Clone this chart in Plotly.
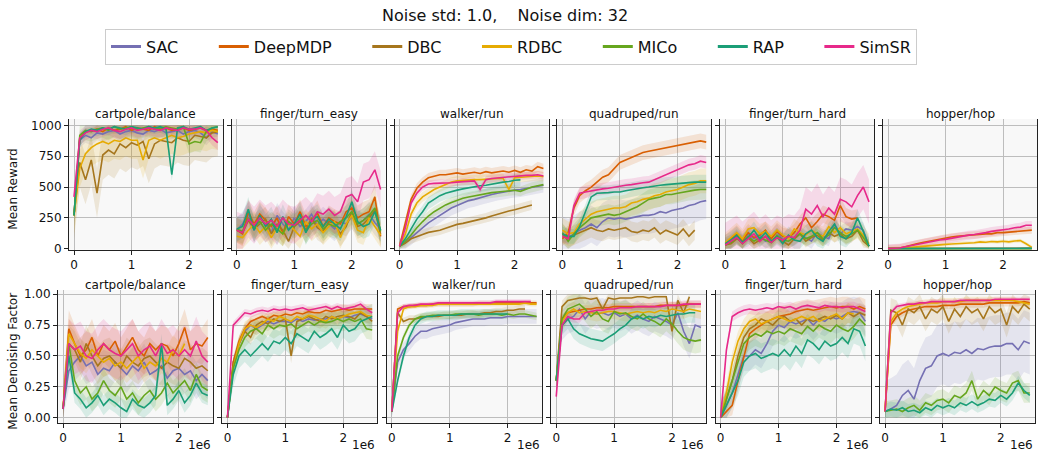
import plotly.graph_objects as go

W, H = 1039, 462

methods = ["SAC", "DeepMDP", "DBC", "RDBC", "MICo", "RAP", "SimSR"]
colors = ["#7570b3", "#d95f02", "#a6761d", "#e6ab02", "#66a61e", "#1b9e77", "#e7298a"]
tasks = ["cartpole/balance", "finger/turn_easy", "walker/run", "quadruped/run", "finger/turn_hard", "hopper/hop"]

steps = [0, 100000, 200000, 300000, 400000, 500000, 600000, 700000, 800000, 900000,
         1000000, 1100000, 1200000, 1300000, 1400000, 1500000, 1600000, 1700000, 1800000, 1900000,
         2000000, 2100000, 2200000, 2300000, 2400000, 2500000]

x_tickvals = [0, 1000000, 2000000]
x_ticktext = ["0", "1", "2"]
rew_tickvals = [0, 250, 500, 750, 1000]
rew_ticktext = ["0", "250", "500", "750", "1000"]
den_tickvals = [0, 0.25, 0.5, 0.75, 1.0]
den_ticktext = ["0.00", "0.25", "0.50", "0.75", "1.00"]

# ---------------- Mean Reward ----------------
rew_cartpole_SAC = [270, 880, 920, 900, 940, 930, 950, 960, 930, 950, 960, 940, 930, 960, 950, 970, 940, 950, 960, 930, 950, 960, 940, 900, 950, 930]
rew_cartpole_DeepMDP = [270, 900, 950, 960, 970, 950, 980, 960, 970, 990, 960, 980, 970, 960, 990, 970, 980, 960, 970, 980, 960, 970, 980, 960, 970, 960]
rew_cartpole_DBC = [270, 700, 560, 720, 450, 760, 800, 770, 850, 820, 860, 840, 870, 730, 850, 880, 870, 860, 900, 880, 870, 920, 910, 900, 940, 950]
rew_cartpole_RDBC = [270, 650, 770, 820, 850, 870, 850, 880, 870, 900, 880, 880, 720, 880, 900, 880, 900, 920, 900, 910, 930, 940, 950, 940, 960, 950]
rew_cartpole_MICo = [270, 920, 960, 950, 970, 980, 960, 990, 970, 980, 990, 970, 980, 990, 970, 980, 990, 980, 970, 990, 850, 870, 860, 950, 980, 990]
rew_cartpole_RAP = [270, 880, 950, 970, 960, 980, 970, 990, 980, 970, 990, 980, 970, 990, 980, 990, 970, 600, 980, 990, 970, 980, 990, 960, 980, 990]
rew_cartpole_SimSR = [420, 900, 940, 960, 950, 970, 980, 960, 950, 970, 980, 960, 970, 980, 970, 960, 980, 970, 960, 980, 970, 970, 980, 960, 900, 860]
rew_cartpole_spread = [60, 30, 200, 150, 80, 50, 60]

rew_fingereasy_SAC = [150, 200, 280, 150, 250, 200, 130, 270, 200, 150, 250, 180, 220, 280, 190, 240, 200, 160, 220, 200, 260, 200, 230, 280, 210, 160]
rew_fingereasy_DeepMDP = [150, 120, 300, 200, 280, 230, 180, 250, 120, 260, 200, 300, 180, 220, 290, 180, 250, 220, 200, 300, 330, 250, 280, 300, 420, 100]
rew_fingereasy_DBC = [150, 130, 230, 160, 200, 240, 120, 200, 150, 60, 180, 220, 150, 250, 170, 140, 220, 200, 120, 180, 300, 180, 200, 250, 310, 120]
rew_fingereasy_RDBC = [100, 90, 150, 200, 130, 180, 90, 170, 120, 200, 150, 100, 220, 160, 200, 130, 180, 220, 90, 200, 270, 150, 130, 250, 180, 110]
rew_fingereasy_MICo = [160, 140, 250, 180, 220, 150, 200, 160, 120, 220, 180, 250, 140, 200, 230, 160, 200, 180, 220, 250, 300, 200, 230, 270, 330, 140]
rew_fingereasy_RAP = [160, 180, 320, 150, 270, 180, 240, 130, 260, 150, 200, 280, 130, 230, 260, 180, 240, 200, 160, 260, 380, 220, 180, 200, 300, 150]
rew_fingereasy_SimSR = [150, 130, 240, 190, 250, 200, 230, 180, 250, 200, 190, 230, 270, 220, 300, 280, 320, 270, 300, 420, 440, 380, 540, 560, 640, 480]
rew_fingereasy_spread = [100, 100, 100, 100, 100, 100, 150]

rew_walker_SAC = [20, 50, 90, 130, 170, 210, 240, 270, 300, 330, 350, 370, 390, 400, 415, 430, 440, 450, 460, 470, 475, 480, 490, 500, 505, 515]
rew_walker_DeepMDP = [20, 200, 400, 490, 540, 575, 590, 600, 600, 610, 615, 605, 615, 620, 610, 625, 615, 620, 630, 620, 635, 620, 640, 630, 665, 650]
rew_walker_DBC = [20, 45, 80, 100, 115, 132, 140, 150, 165, 180, 197, 205, 215, 230, 240, 250, 265, 280, 290, 305, 316, 330, 345, 355, None, None]
rew_walker_RDBC = [20, 120, 280, 370, 420, 450, 480, 500, 520, 540, 550, 555, 555, 560, 560, 565, 570, 570, 570, 480, 575, 580, 580, 585, 590, 585]
rew_walker_MICo = [20, 60, 110, 170, 220, 265, 300, 330, 355, 375, 395, 410, 420, 430, 440, 447, 455, 460, 465, 470, 474, 465, 485, 500, 510, 520]
rew_walker_RAP = [20, 80, 160, 240, 300, 370, 400, 430, 450, 465, 475, 485, 495, 505, 510, 515, 525, 535, 540, 545, 555, 558, None, None, None, None]
rew_walker_SimSR = [20, 170, 370, 450, 500, 525, 530, 530, 535, 535, 540, 545, 545, 550, 480, 560, 570, 575, 575, 580, 590, 590, 595, 595, 600, 590]
rew_walker_spread = [60, 40, 40, 40, 40, 50, 30]

rew_quadruped_SAC = [110, 90, 120, 150, 170, 200, 170, 220, 250, 240, 250, 240, 250, 260, 270, 270, 280, 300, 290, 310, 320, 330, 350, 360, 380, 390]
rew_quadruped_DeepMDP = [80, 130, 330, 430, 470, 500, 540, 580, 600, 650, 700, 720, 740, 760, 780, 790, 800, 810, 820, 830, 840, 850, 860, 865, 875, 865]
rew_quadruped_DBC = [120, 80, 110, 130, 150, 170, 150, 140, 160, 150, 160, 170, 140, 130, 150, 140, 170, 120, 150, 130, 110, 160, 100, 150, None, None]
rew_quadruped_RDBC = [150, 120, 130, 200, 240, 280, 300, 310, 320, 330, 330, 340, 370, 380, 400, 410, 430, 440, 460, 470, 480, 500, 520, 530, 550, 550]
rew_quadruped_MICo = [130, 60, 120, 170, 210, 250, 260, 270, 280, 270, 280, 300, 320, 340, 370, 400, 410, 420, 440, 440, 450, 460, 470, 475, 480, 480]
rew_quadruped_RAP = [120, 100, 100, 180, 300, 420, 450, 450, 455, 460, 460, 470, 480, 490, 495, 500, 510, 515, 520, 525, 530, 535, 535, 540, 540, 540]
rew_quadruped_SimSR = [100, 80, 350, 450, 460, 470, 480, 485, 490, 500, 510, 515, 520, 530, 535, 540, 560, 580, 600, 620, 640, 660, 680, 690, 710, 700]
rew_quadruped_spread = [150, 60, 80, 100, 80, 60, 50]

rew_fingerhard_SAC = [30, 60, 100, 50, 120, 80, 110, 60, 90, 140, 70, 100, 80, 120, 90, 60, 130, 100, 80, 200, 120, 160, 150, 180, 150, 20]
rew_fingerhard_DeepMDP = [40, 80, 120, 70, 130, 90, 110, 150, 80, 140, 100, 90, 130, 200, 250, 170, 220, 280, 260, 230, 350, 260, 240, 250, None, None]
rew_fingerhard_DBC = [30, 40, 80, 60, 90, 40, 70, 100, 50, 90, 60, 30, 80, 120, 60, 90, 110, 70, 130, 100, 120, 80, 100, 150, 60, 20]
rew_fingerhard_RDBC = [50, 90, 130, 80, 160, 170, 120, 140, 100, 150, 110, 80, 160, 130, 110, 150, 120, 100, 180, 130, 170, 120, 140, 160, 110, 40]
rew_fingerhard_MICo = [30, 50, 90, 40, 100, 60, 90, 70, 50, 110, 70, 60, 90, 120, 80, 100, 130, 80, 110, 170, 130, 100, 120, 150, 90, 20]
rew_fingerhard_RAP = [40, 70, 110, 50, 90, 150, 80, 130, 60, 100, 40, 110, 70, 60, 120, 150, 90, 60, 140, 200, 100, 80, 130, 250, 140, 20]
rew_fingerhard_SimSR = [30, 60, 90, 40, 80, 120, 60, 100, 50, 90, 70, 100, 90, 150, 320, 280, 350, 260, 330, 280, 400, 380, 340, 430, 500, 380]
rew_fingerhard_spread = [60, 70, 50, 80, 60, 70, 180]

rew_hopper_SAC = [0, 0, 0, 0, 0, 0, 0, 0, 1, 1, 1, 1, 2, 2, 2, 2, 3, 3, 3, 3, 3, 3, 4, 4, 4, 4]
rew_hopper_DeepMDP = [0, 0, 5, 15, 30, 40, 50, 60, 70, 80, 90, 95, 100, 105, 110, 110, 115, 120, 120, 130, 130, 135, 140, 145, 150, 150]
rew_hopper_DBC = [0, 0, 0, 0, 0, 0, 0, 0, 0, 0, 0, 0, 0, 0, 0, 0, 0, 0, 0, 0, 0, 0, 0, 0, 0, 0]
rew_hopper_RDBC = [0, 0, 2, 5, 10, 15, 20, 22, 25, 30, 35, 38, 40, 45, 50, 48, 55, 52, 58, 55, 60, 55, 62, 65, 40, 10]
rew_hopper_MICo = [0, 0, 0, 0, 0, 0, 0, 0, 0, 0, 0, 0, 0, 0, 0, 0, 0, 0, 0, 0, 0, 0, 0, 0, 0, 0]
rew_hopper_RAP = [0, 0, 0, 0, 0, 0, 0, 0, 0, 0, 0, 0, 1, 1, 1, 1, 1, 1, 2, 2, 2, 2, 2, 2, 2, 2]
rew_hopper_SimSR = [0, 0, 5, 15, 25, 30, 40, 50, 60, 70, 75, 85, 90, 100, 110, 115, 120, 130, 140, 145, 150, 160, 170, 175, 190, 190]
rew_hopper_spread = [3, 30, 3, 15, 3, 3, 35]

# ---------------- Mean Denoising Factor ----------------
den_cartpole_SAC = [0.07, 0.38, 0.45, 0.5, 0.42, 0.45, 0.35, 0.4, 0.38, 0.45, 0.4, 0.35, 0.42, 0.38, 0.45, 0.35, 0.38, 0.42, 0.32, 0.38, 0.4, 0.35, 0.38, 0.3, 0.35, 0.3]
den_cartpole_DeepMDP = [0.07, 0.72, 0.6, 0.5, 0.55, 0.65, 0.5, 0.6, 0.55, 0.62, 0.5, 0.58, 0.65, 0.55, 0.5, 0.6, 0.55, 0.6, 0.58, 0.5, 0.6, 0.73, 0.55, 0.6, 0.58, 0.65]
den_cartpole_DBC = [0.07, 0.6, 0.55, 0.45, 0.6, 0.5, 0.42, 0.48, 0.5, 0.45, 0.4, 0.5, 0.45, 0.42, 0.48, 0.5, 0.45, 0.4, 0.45, 0.42, 0.4, 0.48, 0.45, 0.4, 0.42, 0.38]
den_cartpole_RDBC = [0.07, 0.68, 0.6, 0.52, 0.48, 0.55, 0.5, 0.45, 0.48, 0.42, 0.45, 0.4, 0.45, 0.5, 0.4, 0.45, 0.42, 0.48, 0.45, 0.55, 0.5, 0.6, None, None, None, None]
den_cartpole_MICo = [0.07, 0.6, 0.3, 0.2, 0.25, 0.15, 0.2, 0.3, 0.22, 0.18, 0.25, 0.15, 0.2, 0.12, 0.18, 0.22, 0.15, 0.2, 0.28, 0.2, 0.25, 0.3, 0.22, 0.35, 0.25, 0.22]
den_cartpole_RAP = [0.07, 0.5, 0.2, 0.15, 0.08, 0.12, 0.18, 0.1, 0.15, 0.12, 0.08, 0.05, 0.15, 0.1, 0.08, 0.12, 0.18, 0.6, 0.1, 0.15, 0.22, 0.12, 0.18, 0.28, 0.2, 0.18]
den_cartpole_SimSR = [0.07, 0.6, 0.55, 0.58, 0.5, 0.48, 0.55, 0.6, 0.55, 0.52, 0.5, 0.55, 0.6, 0.5, 0.55, 0.58, 0.5, 0.6, 0.52, 0.55, 0.5, 0.55, 0.5, 0.62, 0.5, 0.45]
den_cartpole_spread = [0.15, 0.15, 0.15, 0.12, 0.1, 0.08, 0.2]

den_fingereasy_SAC = [0.0, 0.45, 0.6, 0.7, 0.75, 0.72, 0.75, 0.78, 0.76, 0.78, 0.78, 0.77, 0.8, 0.78, 0.8, 0.79, 0.8, 0.8, 0.82, 0.8, 0.82, 0.81, 0.83, 0.84, 0.82, 0.8]
den_fingereasy_DeepMDP = [0.0, 0.45, 0.62, 0.72, 0.78, 0.8, 0.82, 0.8, 0.83, 0.82, 0.84, 0.83, 0.85, 0.84, 0.86, 0.85, 0.85, 0.87, 0.86, 0.87, 0.88, 0.87, 0.88, 0.88, 0.88, 0.88]
den_fingereasy_DBC = [0.0, 0.42, 0.6, 0.7, 0.65, 0.75, 0.78, 0.76, 0.8, 0.78, 0.8, 0.5, 0.78, 0.8, 0.82, 0.8, 0.78, 0.82, 0.8, 0.82, 0.83, 0.82, 0.8, 0.85, 0.82, 0.78]
den_fingereasy_RDBC = [0.0, 0.4, 0.6, 0.72, 0.75, 0.73, 0.76, 0.8, 0.78, 0.82, 0.8, 0.78, 0.82, 0.8, 0.83, 0.82, 0.8, 0.78, 0.82, 0.8, 0.82, 0.84, 0.85, 0.86, 0.83, 0.82]
den_fingereasy_MICo = [0.0, 0.4, 0.55, 0.65, 0.7, 0.72, 0.68, 0.75, 0.72, 0.75, 0.74, 0.76, 0.72, 0.75, 0.78, 0.75, 0.78, 0.77, 0.78, 0.8, 0.78, 0.8, 0.78, 0.8, 0.72, 0.71]
den_fingereasy_RAP = [0.0, 0.35, 0.5, 0.55, 0.5, 0.55, 0.6, 0.55, 0.62, 0.6, 0.65, 0.6, 0.68, 0.65, 0.62, 0.7, 0.65, 0.68, 0.72, 0.65, 0.75, 0.7, 0.72, 0.78, 0.8, 0.82]
den_fingereasy_SimSR = [0.0, 0.75, 0.8, 0.85, 0.84, 0.86, 0.87, 0.86, 0.88, 0.87, 0.88, 0.87, 0.88, 0.89, 0.87, 0.88, 0.89, 0.9, 0.88, 0.9, 0.88, 0.89, 0.9, 0.92, 0.88, 0.85]
den_fingereasy_spread = [0.05, 0.04, 0.06, 0.06, 0.08, 0.1, 0.03]

den_walker_SAC = [0.05, 0.45, 0.55, 0.6, 0.66, 0.7, 0.7, 0.72, 0.73, 0.74, 0.75, 0.77, 0.78, 0.79, 0.8, 0.8, 0.8, 0.81, 0.81, 0.81, 0.82, 0.82, 0.82, 0.82, 0.82, 0.82]
den_walker_DeepMDP = [0.05, 0.88, 0.9, 0.9, 0.91, 0.91, 0.91, 0.92, 0.92, 0.92, 0.92, 0.92, 0.92, 0.92, 0.92, 0.93, 0.93, 0.93, 0.93, 0.93, 0.93, 0.93, 0.93, 0.93, 0.93, 0.93]
den_walker_DBC = [0.05, 0.85, 0.78, 0.8, 0.8, 0.81, 0.82, 0.82, 0.82, 0.83, 0.83, 0.83, 0.83, 0.84, 0.84, 0.84, 0.85, 0.85, 0.86, 0.86, 0.87, 0.87, 0.88, 0.88, None, None]
den_walker_RDBC = [0.05, 0.7, 0.88, 0.9, 0.9, 0.91, 0.91, 0.91, 0.92, 0.92, 0.92, 0.92, 0.92, 0.92, 0.92, 0.92, 0.92, 0.92, 0.92, 0.92, 0.92, 0.92, 0.92, 0.93, 0.92, 0.92]
den_walker_MICo = [0.05, 0.5, 0.65, 0.75, 0.8, 0.82, 0.82, 0.83, 0.83, 0.83, 0.83, 0.84, 0.84, 0.84, 0.84, 0.83, 0.84, 0.84, 0.84, 0.83, 0.84, 0.83, 0.84, 0.84, 0.83, 0.82]
den_walker_RAP = [0.05, 0.3, 0.5, 0.65, 0.75, 0.8, 0.82, 0.82, 0.83, 0.83, 0.83, 0.83, 0.84, 0.84, 0.84, 0.84, 0.84, 0.84, 0.84, 0.84, 0.84, None, None, None, None, None]
den_walker_SimSR = [0.05, 0.85, 0.9, 0.91, 0.91, 0.92, 0.92, 0.92, 0.93, 0.93, 0.93, 0.93, 0.93, 0.93, 0.93, 0.93, 0.93, 0.93, 0.94, 0.94, 0.94, 0.94, 0.94, 0.94, 0.94, None]
den_walker_spread = [0.06, 0.02, 0.03, 0.02, 0.03, 0.04, 0.02]

den_quadruped_SAC = [0.3, 0.75, 0.8, 0.82, 0.88, 0.8, 0.86, 0.84, 0.85, 0.83, 0.85, 0.82, 0.84, 0.8, 0.83, 0.8, 0.78, 0.82, 0.8, 0.78, 0.75, 0.85, 0.7, 0.6, 0.75, 0.73]
den_quadruped_DeepMDP = [0.3, 0.8, 0.85, 0.86, 0.87, 0.88, 0.88, 0.89, 0.89, 0.89, 0.9, 0.9, 0.9, 0.9, 0.9, 0.9, 0.9, 0.9, 0.91, 0.91, 0.91, 0.91, 0.91, 0.92, 0.92, 0.92]
den_quadruped_DBC = [0.3, 0.9, 0.95, 0.96, 0.97, 0.97, 0.96, 0.97, 0.88, 0.97, 0.96, 0.97, 0.97, 0.97, 0.98, 0.98, 0.97, 0.98, 0.98, 0.98, 0.7, 0.95, 0.85, 0.98, None, None]
den_quadruped_RDBC = [0.3, 0.78, 0.85, 0.88, 0.85, 0.86, 0.85, 0.84, 0.85, 0.86, 0.86, 0.85, 0.84, 0.85, 0.86, 0.85, 0.86, 0.85, 0.87, 0.86, 0.88, 0.87, 0.86, 0.88, 0.87, 0.86]
den_quadruped_MICo = [0.3, 0.8, 0.88, 0.9, 0.92, 0.88, 0.82, 0.86, 0.8, 0.78, 0.86, 0.84, 0.85, 0.82, 0.8, 0.84, 0.8, 0.78, 0.75, 0.8, 0.76, 0.7, 0.65, 0.63, 0.62, 0.63]
den_quadruped_RAP = [0.3, 0.75, 0.8, 0.72, 0.68, 0.66, 0.64, 0.63, 0.62, 0.65, 0.68, 0.72, 0.75, 0.8, 0.82, 0.8, 0.82, 0.81, 0.83, 0.82, 0.83, 0.84, 0.84, 0.85, 0.85, None]
den_quadruped_SimSR = [0.17, 0.75, 0.82, 0.8, 0.8, 0.85, 0.86, 0.87, 0.87, 0.88, 0.88, 0.89, 0.89, 0.89, 0.9, 0.9, 0.9, 0.9, 0.9, 0.91, 0.91, 0.91, 0.92, 0.92, 0.92, 0.92]
den_quadruped_spread = [0.12, 0.03, 0.05, 0.06, 0.1, 0.08, 0.03]

den_fingerhard_SAC = [0.0, 0.1, 0.2, 0.35, 0.5, 0.5, 0.55, 0.52, 0.6, 0.7, 0.75, 0.73, 0.78, 0.76, 0.78, 0.8, 0.75, 0.8, 0.78, 0.82, 0.8, 0.82, 0.85, 0.86, 0.85, 0.78]
den_fingerhard_DeepMDP = [0.0, 0.05, 0.1, 0.3, 0.5, 0.68, 0.72, 0.75, 0.78, 0.8, 0.82, 0.83, 0.84, 0.86, 0.87, 0.88, 0.87, 0.88, 0.89, 0.9, 0.89, 0.9, 0.9, 0.88, 0.9, 0.88]
den_fingerhard_DBC = [0.0, 0.15, 0.3, 0.5, 0.65, 0.72, 0.75, 0.8, 0.78, 0.75, 0.8, 0.82, 0.78, 0.8, 0.75, 0.8, 0.78, 0.8, 0.82, 0.8, 0.83, 0.8, 0.85, 0.82, 0.85, 0.83]
den_fingerhard_RDBC = [0.0, 0.2, 0.45, 0.62, 0.72, 0.78, 0.8, 0.76, 0.78, 0.8, 0.82, 0.8, 0.78, 0.8, 0.82, 0.8, 0.82, 0.78, 0.8, 0.82, 0.84, 0.8, 0.85, 0.84, None, None]
den_fingerhard_MICo = [0.0, 0.15, 0.3, 0.45, 0.6, 0.65, 0.68, 0.66, 0.7, 0.68, 0.7, 0.68, 0.72, 0.7, 0.68, 0.74, 0.7, 0.75, 0.72, 0.7, 0.75, 0.72, 0.7, 0.74, 0.8, 0.75]
den_fingerhard_RAP = [0.0, 0.1, 0.2, 0.3, 0.45, 0.5, 0.52, 0.48, 0.5, 0.52, 0.5, 0.55, 0.5, 0.58, 0.52, 0.63, 0.6, 0.55, 0.62, 0.58, 0.6, 0.65, 0.6, 0.72, 0.7, 0.58]
den_fingerhard_SimSR = [0.0, 0.55, 0.82, 0.85, 0.87, 0.88, 0.87, 0.88, 0.89, 0.88, 0.9, 0.89, 0.9, 0.88, 0.9, 0.91, 0.9, 0.89, 0.91, 0.9, 0.9, 0.89, 0.9, 0.9, 0.88, 0.86]
den_fingerhard_spread = [0.12, 0.08, 0.08, 0.08, 0.1, 0.12, 0.04]

den_hopper_SAC = [0.05, 0.07, 0.1, 0.18, 0.22, 0.15, 0.3, 0.4, 0.42, 0.5, 0.52, 0.5, 0.53, 0.52, 0.55, 0.52, 0.56, 0.55, 0.57, 0.58, 0.58, 0.6, 0.6, 0.55, 0.62, 0.6]
den_hopper_DeepMDP = [0.05, 0.75, 0.82, 0.85, 0.87, 0.88, 0.89, 0.9, 0.9, 0.9, 0.91, 0.91, 0.91, 0.92, 0.92, 0.92, 0.92, 0.92, 0.93, 0.93, 0.93, 0.93, 0.93, 0.93, 0.94, 0.93]
den_hopper_DBC = [0.05, 0.87, 0.85, 0.75, 0.88, 0.85, 0.9, 0.8, 0.88, 0.85, 0.9, 0.78, 0.88, 0.82, 0.9, 0.85, 0.88, 0.8, 0.9, 0.85, 0.88, 0.75, 0.9, 0.85, 0.92, 0.88]
den_hopper_RDBC = [0.05, 0.78, 0.85, 0.88, 0.9, 0.91, 0.92, 0.93, 0.93, 0.93, 0.94, 0.94, 0.94, 0.94, 0.95, 0.95, 0.95, 0.95, 0.95, 0.95, 0.95, 0.95, 0.95, 0.94, 0.93, 0.92]
den_hopper_MICo = [0.05, 0.06, 0.07, 0.05, 0.08, 0.1, 0.06, 0.12, 0.1, 0.14, 0.15, 0.12, 0.18, 0.16, 0.2, 0.3, 0.15, 0.22, 0.18, 0.25, 0.22, 0.2, 0.28, 0.3, 0.2, 0.2]
den_hopper_RAP = [0.05, 0.07, 0.06, 0.08, 0.05, 0.06, 0.04, 0.08, 0.06, 0.1, 0.08, 0.1, 0.08, 0.12, 0.1, 0.13, 0.1, 0.12, 0.15, 0.14, 0.18, 0.15, 0.2, 0.28, 0.22, 0.18]
den_hopper_SimSR = [0.05, 0.85, 0.9, 0.91, 0.92, 0.92, 0.93, 0.93, 0.94, 0.94, 0.94, 0.94, 0.94, 0.95, 0.95, 0.95, 0.95, 0.95, 0.95, 0.96, 0.96, 0.96, 0.96, 0.96, 0.96, 0.96]
den_hopper_spread = [0.25, 0.03, 0.1, 0.03, 0.08, 0.06, 0.02]

reward_panels = [
    ([rew_cartpole_SAC, rew_cartpole_DeepMDP, rew_cartpole_DBC, rew_cartpole_RDBC, rew_cartpole_MICo, rew_cartpole_RAP, rew_cartpole_SimSR], rew_cartpole_spread),
    ([rew_fingereasy_SAC, rew_fingereasy_DeepMDP, rew_fingereasy_DBC, rew_fingereasy_RDBC, rew_fingereasy_MICo, rew_fingereasy_RAP, rew_fingereasy_SimSR], rew_fingereasy_spread),
    ([rew_walker_SAC, rew_walker_DeepMDP, rew_walker_DBC, rew_walker_RDBC, rew_walker_MICo, rew_walker_RAP, rew_walker_SimSR], rew_walker_spread),
    ([rew_quadruped_SAC, rew_quadruped_DeepMDP, rew_quadruped_DBC, rew_quadruped_RDBC, rew_quadruped_MICo, rew_quadruped_RAP, rew_quadruped_SimSR], rew_quadruped_spread),
    ([rew_fingerhard_SAC, rew_fingerhard_DeepMDP, rew_fingerhard_DBC, rew_fingerhard_RDBC, rew_fingerhard_MICo, rew_fingerhard_RAP, rew_fingerhard_SimSR], rew_fingerhard_spread),
    ([rew_hopper_SAC, rew_hopper_DeepMDP, rew_hopper_DBC, rew_hopper_RDBC, rew_hopper_MICo, rew_hopper_RAP, rew_hopper_SimSR], rew_hopper_spread),
]
denoise_panels = [
    ([den_cartpole_SAC, den_cartpole_DeepMDP, den_cartpole_DBC, den_cartpole_RDBC, den_cartpole_MICo, den_cartpole_RAP, den_cartpole_SimSR], den_cartpole_spread),
    ([den_fingereasy_SAC, den_fingereasy_DeepMDP, den_fingereasy_DBC, den_fingereasy_RDBC, den_fingereasy_MICo, den_fingereasy_RAP, den_fingereasy_SimSR], den_fingereasy_spread),
    ([den_walker_SAC, den_walker_DeepMDP, den_walker_DBC, den_walker_RDBC, den_walker_MICo, den_walker_RAP, den_walker_SimSR], den_walker_spread),
    ([den_quadruped_SAC, den_quadruped_DeepMDP, den_quadruped_DBC, den_quadruped_RDBC, den_quadruped_MICo, den_quadruped_RAP, den_quadruped_SimSR], den_quadruped_spread),
    ([den_fingerhard_SAC, den_fingerhard_DeepMDP, den_fingerhard_DBC, den_fingerhard_RDBC, den_fingerhard_MICo, den_fingerhard_RAP, den_fingerhard_SimSR], den_fingerhard_spread),
    ([den_hopper_SAC, den_hopper_DeepMDP, den_hopper_DBC, den_hopper_RDBC, den_hopper_MICo, den_hopper_RAP, den_hopper_SimSR], den_hopper_spread),
]


def rgba(h, a):
    h = h.lstrip("#")
    return "rgba(%d,%d,%d,%.2f)" % (int(h[0:2], 16), int(h[2:4], 16), int(h[4:6], 16), a)


FONT = "DejaVu Sans"
GRID = "#bdbdbd"
SPINE = "#222222"
BG = "#f8f8f8"

# pixel geometry of panels
top_left = [69, 231.8, 394.6, 557.4, 720.2, 883]
top_w = 154
top_y = (119, 252)
bot_left = [58, 222.4, 386.8, 551.2, 715.6, 880]
bot_w = 155
bot_y = (293, 428)

fig = go.Figure()
layout = dict(
    width=W, height=H, autosize=False,
    margin=dict(l=0, r=0, t=0, b=0),
    paper_bgcolor="white", plot_bgcolor=BG,
    font=dict(family=FONT, size=12, color="#111111"),
    showlegend=True,
    annotations=[],
)

rows = [
    (reward_panels, top_left, top_w, top_y, [-8, 1053], rew_tickvals, rew_ticktext, 0, 1000),
    (denoise_panels, bot_left, bot_w, bot_y, [-0.04, 1.035], den_tickvals, den_ticktext, 0, 1),
]

for r, (panels, lefts, pw, (yt, yb), yrange, ytv, ytt, lo, hi) in enumerate(rows):
    for c, (series, spreads) in enumerate(panels):
        idx = r * 6 + c + 1
        xa = "x" if idx == 1 else "x%d" % idx
        ya = "y" if idx == 1 else "y%d" % idx
        # bands
        for m in range(len(methods)):
            pts = [(x, v) for x, v in zip(steps, series[m]) if v is not None]
            xs = [p[0] for p in pts]
            up = [min(p[1] + spreads[m], hi) for p in pts]
            dn = [max(p[1] - spreads[m], lo) for p in pts]
            fig.add_trace(go.Scatter(
                x=xs + xs[::-1], y=up + dn[::-1], fill="toself",
                fillcolor=rgba(colors[m], 0.15), line=dict(width=0),
                mode="lines", hoverinfo="skip", showlegend=False,
                xaxis=xa, yaxis=ya))
        for m in range(len(methods)):
            pts = [(x, v) for x, v in zip(steps, series[m]) if v is not None]
            fig.add_trace(go.Scatter(
                x=[p[0] for p in pts], y=[p[1] for p in pts], mode="lines",
                line=dict(color=colors[m], width=1.6), name=methods[m],
                showlegend=False, xaxis=xa, yaxis=ya))
        x0 = lefts[c] / W
        x1 = (lefts[c] + pw) / W
        y0 = (H - yb) / H
        y1 = (H - yt) / H
        xkey = "xaxis" if idx == 1 else "xaxis%d" % idx
        ykey = "yaxis" if idx == 1 else "yaxis%d" % idx
        layout[xkey] = dict(
            domain=[x0, x1], anchor=ya, range=[-87000, 2590000],
            tickmode="array", tickvals=x_tickvals, ticktext=x_ticktext,
            showgrid=True, gridcolor=GRID, gridwidth=1, zeroline=False,
            showline=True, linecolor=SPINE, linewidth=1,
            ticks="outside", ticklen=4, tickcolor=SPINE, tickwidth=1,
            tickfont=dict(size=12, family=FONT, color="#111111"), fixedrange=True)
        layout[ykey] = dict(
            domain=[y0, y1], anchor=xa, range=yrange,
            tickmode="array", tickvals=ytv, ticktext=ytt,
            showticklabels=(c == 0),
            showgrid=True, gridcolor=GRID, gridwidth=1, zeroline=False,
            showline=True, mirror=True, linecolor=SPINE, linewidth=1,
            ticks="outside", ticklen=4, tickcolor=SPINE, tickwidth=1,
            tickfont=dict(size=12, family=FONT, color="#111111"), fixedrange=True)
        # subplot title
        layout["annotations"].append(dict(
            text=tasks[c], x=(x0 + x1) / 2, y=(H - (yt - 5)) / H,
            xref="paper", yref="paper", xanchor="center", yanchor="middle",
            showarrow=False, font=dict(size=12, family=FONT, color="#111111")))
        if r == 1:
            layout["annotations"].append(dict(
                text="1e6", x=x1, y=(H - 451) / H, xref="paper", yref="paper",
                xanchor="right", yanchor="middle", showarrow=False,
                font=dict(size=12, family=FONT, color="#111111")))

# legend-only traces (trailing spaces widen the entry gaps like the reference)
PAD = "\u00a0" * 6
for m in range(len(methods)):
    label = methods[m] + (PAD if m < len(methods) - 1 else "")
    fig.add_trace(go.Scatter(x=[None], y=[None], mode="lines", name=label,
                             line=dict(color=colors[m], width=3), showlegend=True))

layout["annotations"].append(dict(
    text="Mean Reward", x=13 / W, y=(H - 191) / H, xref="paper", yref="paper",
    textangle=-90, xanchor="center", yanchor="middle", showarrow=False,
    font=dict(size=12, family=FONT, color="#111111")))
layout["annotations"].append(dict(
    text="Mean Denoising Factor", x=13 / W, y=(H - 366) / H, xref="paper", yref="paper",
    textangle=-90, xanchor="center", yanchor="middle", showarrow=False,
    font=dict(size=12, family=FONT, color="#111111")))
layout["annotations"].append(dict(
    text="Noise std: 1.0,\u00a0\u00a0\u00a0\u00a0Noise dim: 32", x=505 / W, y=(H - 14) / H,
    xref="paper", yref="paper", xanchor="center", yanchor="middle", showarrow=False,
    font=dict(size=16, family=FONT, color="#111111")))

layout["legend"] = dict(
    orientation="h", x=511 / W, xanchor="center", y=(H - 27) / H, yanchor="top",
    bordercolor="#cccccc", borderwidth=1, bgcolor="white",
    font=dict(size=16, family=FONT, color="#111111"))

fig.update_layout(**layout)
fig.write_html("out.html")
